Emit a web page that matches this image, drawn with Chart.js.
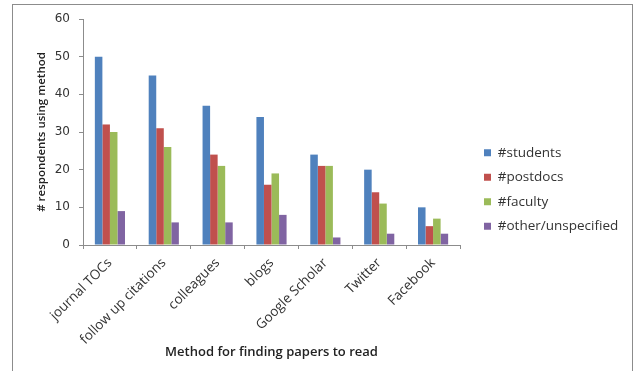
<!DOCTYPE html>
<html>
<head>
<meta charset="utf-8">
<script src="https://cdn.jsdelivr.net/npm/chart.js@4/dist/chart.umd.min.js"></script>
<style>
  html, body { margin: 0; padding: 0; background: #fff; }
  #frame { position: absolute; left: 12px; top: 4px; width: 621px; height: 370px; border: 1px solid #8c8c8c; border-bottom: none; box-sizing: border-box; }
  #chart { position: absolute; left: 0; top: 0; }
</style>
</head>
<body>
<div id="frame"></div>
<canvas id="chart" width="636" height="371"></canvas>
<script>
const categories = ['journal TOCs', 'follow up citations', 'colleagues', 'blogs', 'Google Scholar', 'Twitter', 'Facebook'];
const students = [50, 45, 37, 34, 24, 20, 10];
const postdocs = [32, 31, 24, 16, 21, 14, 5];
const faculty = [30, 26, 21, 19, 21, 11, 7];
const other = [9, 6, 6, 8, 2, 3, 3];
const yTicks = [0, 10, 20, 30, 40, 50, 60];

const textColor = '#333';
const axisColor = '#8c8c8c';

// slide the legend box right so there is a wider gap after the plot
const legendShift = {
    id: 'legendShift',
    afterLayout(chart) {
        chart.legend.left += 13;
        chart.legend.right += 20;
    }
};

const ctx = document.getElementById('chart').getContext('2d');
new Chart(ctx, {
    type: 'bar',
    data: {
        labels: categories,
        datasets: [
            { label: '#students', data: students, backgroundColor: '#4F81BD' },
            { label: '#postdocs', data: postdocs, backgroundColor: '#C0504D' },
            { label: '#faculty', data: faculty, backgroundColor: '#9BBB59' },
            { label: '#other/unspecified', data: other, backgroundColor: '#8064A2' }
        ]
    },
    plugins: [legendShift],
    options: {
        responsive: false,
        animation: false,
        datasets: {
            bar: { categoryPercentage: 0.56, barPercentage: 1.0 }
        },
        layout: { padding: { left: 31, top: 19, right: 33, bottom: 11 } },
        plugins: {
            legend: {
                position: 'right',
                labels: {
                    boxWidth: 7,
                    boxHeight: 7,
                    padding: 11,
                    color: textColor,
                    font: { family: 'Open Sans', size: 13.5 }
                }
            },
            tooltip: { enabled: false }
        },
        scales: {
            x: {
                afterFit: function(scale) { scale.height = 115; },
                grid: { drawOnChartArea: false, drawTicks: true, tickLength: 4, color: axisColor },
                border: { color: axisColor },
                ticks: {
                    minRotation: 45,
                    maxRotation: 45,
                    color: textColor,
                    padding: 6,
                    font: { family: 'Open Sans', size: 13.5 }
                },
                title: {
                    display: true,
                    text: 'Method for finding papers to read',
                    color: '#222',
                    padding: { top: 0, bottom: 0 },
                    font: { family: 'Open Sans', size: 13, weight: '600' }
                }
            },
            y: {
                min: 0,
                max: 60,
                afterFit: function(scale) { scale.width = 52; },
                afterBuildTicks: function(axis) {
                    axis.ticks = yTicks.map(v => ({ value: v }));
                },
                grid: { drawOnChartArea: false, drawTicks: true, tickLength: 4, color: axisColor },
                border: { color: axisColor },
                ticks: {
                    color: textColor,
                    padding: 9,
                    font: { family: 'DejaVu Sans', size: 12 }
                },
                title: {
                    display: true,
                    text: '# respondents using method',
                    color: '#222',
                    padding: { top: 4, bottom: 4 },
                    font: { family: 'Open Sans', size: 11.5, weight: '600' }
                }
            }
        }
    }
});
</script>
</body>
</html>
